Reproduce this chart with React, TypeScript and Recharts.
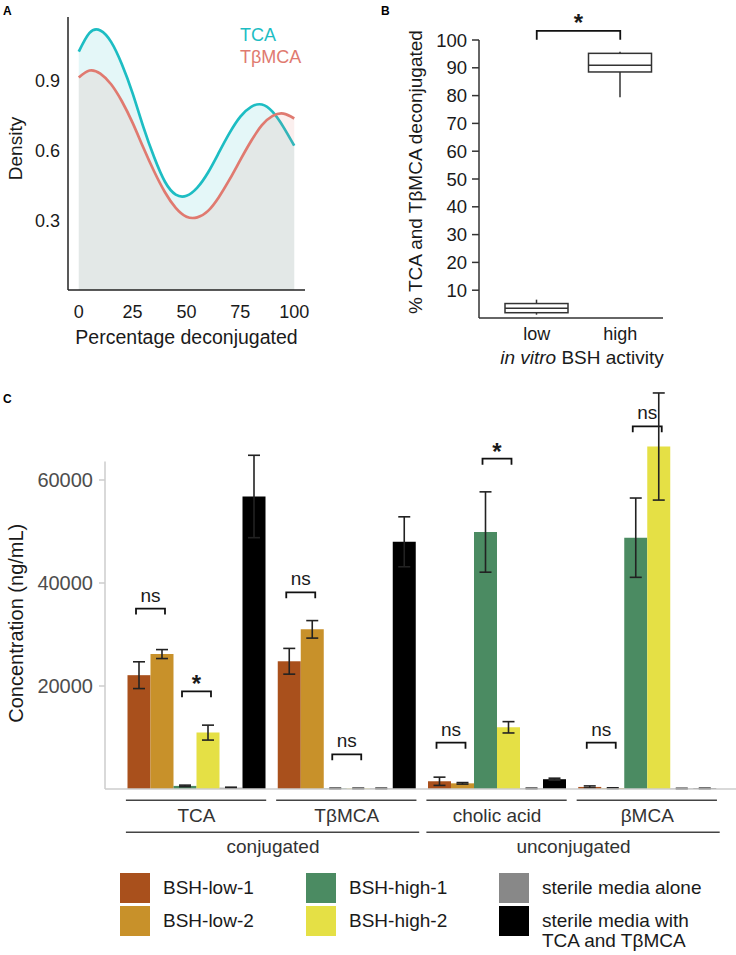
import React from 'react';
import { AreaChart, Area, ComposedChart, Bar, ErrorBar, XAxis, YAxis, ReferenceLine } from 'recharts';

const FONT = '"Liberation Sans", Arial, Helvetica, sans-serif';
const INK = '#1a1a1a';

// ---------- A: density of % deconjugated ----------
const pctGrid = [0, 5, 10, 15, 20, 25, 30, 35, 40, 45, 50, 55, 60, 65, 70, 75, 80, 85, 90, 95, 100];
const tcaDensity = [1.024, 1.105, 1.115, 1.066, 0.97, 0.845, 0.7, 0.57, 0.465, 0.41, 0.405, 0.44, 0.505, 0.59, 0.675, 0.745, 0.787, 0.797, 0.765, 0.7, 0.62];
const tbmcaDensity = [0.913, 0.943, 0.93, 0.884, 0.811, 0.718, 0.611, 0.509, 0.42, 0.353, 0.315, 0.312, 0.34, 0.399, 0.475, 0.559, 0.64, 0.708, 0.748, 0.758, 0.737];
const densityNames = ['TCA', 'TβMCA'];
const densityColors = ['#1dbdc3', '#e07a70'];
const pctTicks = [0, 25, 50, 75, 100];
const densityTicks = [0.3, 0.6, 0.9];

const densityRows = pctGrid.map((p, i) => ({ pct: p, tca: tcaDensity[i], tbmca: tbmcaDensity[i] }));

// ---------- B: box plot by in vitro activity ----------
const activity = ['low', 'high'];
const boxMin = [1.2, 79.4];
const boxQ1 = [1.9, 88.5];
const boxMed = [3.5, 90.9];
const boxQ3 = [5.2, 95.2];
const boxMax = [6.6, 95.8];
const deconjTicks = [10, 20, 30, 40, 50, 60, 70, 80, 90, 100];

const boxRows = activity.map((a, i) => ({
  cat: a, min: boxMin[i], q1: boxQ1[i], med: boxMed[i], q3: boxQ3[i], max: boxMax[i],
}));

// ---------- C: concentrations ----------
const acids = ['TCA', 'TβMCA', 'cholic acid', 'βMCA'];
const acidClasses = ['conjugated', 'unconjugated'];
const classFirst = [0, 2];
const classLast = [1, 3];

const strainNames = ['BSH-low-1', 'BSH-low-2', 'BSH-high-1', 'BSH-high-2', 'sterile media alone', 'sterile media with TCA and TβMCA'];
const strainColors = ['#a9501c', '#c8912a', '#4b8b62', '#e5e045', '#888888', '#000000'];

const bshLow1 = [22100, 24800, 1500, 400];
const bshLow1Sd = [2600, 2500, 800, 200];
const bshLow2 = [26200, 31000, 1100, 150];
const bshLow2Sd = [870, 1700, 150, 80];
const bshHigh1 = [600, 100, 49900, 48800];
const bshHigh1Sd = [150, 60, 7800, 7700];
const bshHigh2 = [10950, 100, 11980, 66500];
const bshHigh2Sd = [1450, 60, 1100, 10400];
const mediaAlone = [250, 100, 100, 80];
const mediaAloneSd = [100, 60, 60, 50];
const mediaWithBA = [56800, 48000, 1900, 100];
const mediaWithBASd = [8000, 4850, 200, 60];

const concValues = [bshLow1, bshLow2, bshHigh1, bshHigh2, mediaAlone, mediaWithBA];
const concErrors = [bshLow1Sd, bshLow2Sd, bshHigh1Sd, bshHigh2Sd, mediaAloneSd, mediaWithBASd];
const concTicks = [20000, 40000, 60000];

// significance brackets: group, left bar (right = left + 1), height, text
const sigGroup = [0, 0, 1, 1, 2, 2, 3, 3];
const sigLeftBar = [0, 2, 0, 2, 0, 2, 0, 2];
const sigLevel = [35030, 18970, 38190, 6740, 9000, 64150, 9000, 70420];
const sigText = ['ns', '*', 'ns', 'ns', 'ns', '*', 'ns', 'ns'];

const concRows = acids.map((acid, i) => {
  const row: any = { acid };
  concValues.forEach((vals, k) => {
    row['s' + k] = vals[i];
    row['e' + k] = concErrors[k][i];
  });
  return row;
});

const C_H = 498;
const C_TOP = 16;
const C_XAXIS_H = 70;
const C_YMAX = 80000;
const C_AXIS_TOP = 63600; // grey y axis line stops here
const CAT_GAP = 7.5;

const bracketShape = (tick: number) => (p: any) => {
  const { x1, y1, x2, y2 } = p;
  if (x1 == null) return <line {...p} />;
  const y = Math.min(y1, y2);
  return <path d={`M${x1},${y + tick}V${y}H${x2}V${y + tick}`} fill="none" stroke="#111" strokeWidth={1.8} />;
};

// first series carries the group annotations (lines under axis, significance brackets)
const AnnotatedBar = (props: any) => {
  const { x, y, width: w, height: h, fill, payload, background } = props;
  const g = payload ? acids.indexOf(payload.acid) : props.index;
  const plotH = background && background.height ? background.height : C_H - C_TOP - C_XAXIS_H;
  const base = background && background.height ? background.y + background.height : y + h;
  const py = (v: number) => base - (v * plotH) / C_YMAX;
  const band = 6 * w + 2 * CAT_GAP;
  const txt = { fontFamily: FONT, fontSize: 19 };
  const cls = classFirst.indexOf(g);
  return (
    <g>
      <rect x={x} y={y} width={w} height={h} fill={fill} />
      <line x1={x - 1.6} x2={x + 6 * w + 0.7} y1={base + 11.3} y2={base + 11.3} stroke="#444" strokeWidth={1.5} />
      <text x={x + 3 * w} y={base + 26} textAnchor="middle" dominantBaseline="central" fill="#333" {...txt}>{acids[g]}</text>
      {cls >= 0 && (
        <>
          <line x1={x - 1.6} x2={x + (classLast[cls] - classFirst[cls]) * band + 6 * w + 0.7}
            y1={base + 43.3} y2={base + 43.3} stroke="#444" strokeWidth={1.5} />
          <text x={x + ((classLast[cls] - classFirst[cls]) * band + 6 * w) / 2} y={base + 57} textAnchor="middle"
            dominantBaseline="central" fill="#333" {...txt}>{acidClasses[cls]}</text>
        </>
      )}
      {sigText.map((t, i) => {
        if (sigGroup[i] !== g) return null;
        const mid = x + (sigLeftBar[i] + 1) * w;
        const half = 0.63 * w;
        const by = py(sigLevel[i]);
        return (
          <g key={i}>
            <path d={`M${mid - half},${by + 6}V${by}H${mid + half}V${by + 6}`} fill="none" stroke="#111" strokeWidth={1.8} />
            {t === '*' ? (
              <text x={mid} y={by + 1} textAnchor="middle" fill={INK} fontFamily={FONT} fontSize={24} fontWeight="bold">*</text>
            ) : (
              <text x={mid} y={by - 7} textAnchor="middle" fill={INK} {...txt}>{t}</text>
            )}
          </g>
        );
      })}
    </g>
  );
};

function DensityPanel() {
  return (
    <div style={{ position: 'absolute', left: 0, top: 0 }}>
      <AreaChart width={340} height={350} data={densityRows} margin={{ top: 17, right: 35, left: 18, bottom: 0 }}>
        <XAxis
          dataKey="pct" type="number" domain={[-5, 105]} ticks={pctTicks} allowDataOverflow
          axisLine={{ stroke: '#222', strokeWidth: 1.5 }} tickLine={false} tickMargin={9} height={60}
          tick={{ fill: INK, fontSize: 18, fontFamily: FONT }}
          label={(p: any) => {
            const vb = p.viewBox || { x: 68, y: 290, width: 237 };
            return (
              <text x={vb.x + vb.width / 2} y={vb.y + 47} textAnchor="middle" dominantBaseline="central"
                fill={INK} fontSize={19.5} fontFamily={FONT}>Percentage deconjugated</text>
            );
          }}
        />
        <YAxis
          type="number" domain={[0, 1.173]} ticks={densityTicks} allowDataOverflow width={50}
          tickFormatter={(v: number) => v.toFixed(1)}
          axisLine={{ stroke: '#222', strokeWidth: 1.5 }} tickLine={false}
          tick={{ fill: INK, fontSize: 18, fontFamily: FONT }}
          label={(p: any) => {
            const vb = p.viewBox || { y: 17, height: 273 };
            const cy = vb.y + vb.height / 2 - 5;
            return (
              <text x={15} y={cy} transform={`rotate(-90 15 ${cy})`} textAnchor="middle" dominantBaseline="central"
                fill={INK} fontSize={19} fontFamily={FONT}>Density</text>
            );
          }}
        />
        <Area type="natural" dataKey="tca" stroke={densityColors[0]} strokeWidth={2.7} fill={densityColors[0]}
          fillOpacity={0.12} dot={false} activeDot={false} isAnimationActive={false} />
        <Area type="natural" dataKey="tbmca" stroke={densityColors[1]} strokeWidth={2.7} fill={densityColors[1]}
          fillOpacity={0.12} dot={false} activeDot={false} isAnimationActive={false} />
      </AreaChart>
      {densityNames.map((n, i) => (
        <div key={n} style={{ position: 'absolute', left: 240, top: 24 + i * 22, fontFamily: FONT, fontSize: 18,
          lineHeight: '22px', color: densityColors[i] }}>{n}</div>
      ))}
    </div>
  );
}

const BoxShape = (props: any) => {
  const { x, y, width, height, payload } = props;
  if (!payload || !height) return null;
  const base = y + height;
  const k = height / payload.max;
  const py = (v: number) => base - v * k;
  const cx = x + width / 2;
  return (
    <g stroke="#333" strokeWidth={1.5} fill="#fff">
      <line x1={cx} x2={cx} y1={py(payload.max)} y2={py(payload.q3)} />
      <line x1={cx} x2={cx} y1={py(payload.q1)} y2={py(payload.min)} />
      <rect x={x} y={py(payload.q3)} width={width} height={py(payload.q1) - py(payload.q3)} />
      <line x1={x} x2={x + width} y1={py(payload.med)} y2={py(payload.med)} />
    </g>
  );
};

function BoxPanel() {
  return (
    <div style={{ position: 'absolute', left: 380, top: 0 }}>
      <ComposedChart width={356} height={370} data={boxRows} margin={{ top: 40, right: 73, left: 39, bottom: 0 }}>
        <XAxis
          dataKey="cat" padding={{ left: 16, right: 1 }} height={52}
          axisLine={{ stroke: '#333', strokeWidth: 1.5 }} tickLine={false} tickMargin={3}
          tick={{ fill: INK, fontSize: 18, fontFamily: FONT }}
          label={(p: any) => {
            const vb = p.viewBox || { x: 99, y: 318, width: 184 };
            return (
              <text x={vb.x + vb.width / 2 + 11} y={vb.y + 39} textAnchor="middle" dominantBaseline="central"
                fill={INK} fontSize={19} fontFamily={FONT}>
                <tspan fontStyle="italic">in vitro</tspan> BSH activity
              </text>
            );
          }}
        />
        <YAxis
          type="number" domain={[0, 100]} ticks={deconjTicks} allowDataOverflow width={60}
          axisLine={{ stroke: '#333', strokeWidth: 1.5 }} tickLine={{ stroke: '#333', strokeWidth: 1.5 }}
          tickSize={7} tickMargin={5}
          tick={{ fill: INK, fontSize: 18.5, fontFamily: FONT }}
          label={(p: any) => {
            const vb = p.viewBox || { y: 40, height: 278 };
            const cy = vb.y + vb.height / 2 - 7;
            return (
              <text x={35} y={cy} transform={`rotate(-90 35 ${cy})`} textAnchor="middle" dominantBaseline="central"
                fill={INK} fontSize={19} fontFamily={FONT}>% TCA and TβMCA deconjugated</text>
            );
          }}
        />
        <Bar dataKey="max" barSize={63} shape={BoxShape} isAnimationActive={false} />
        <ReferenceLine
          segment={[{ x: activity[0], y: 103.3 }, { x: activity[1], y: 103.3 }]}
          ifOverflow="visible" shape={bracketShape(9)}
          label={{ value: '*', position: 'top', offset: 0, fill: INK, fontSize: 24, fontWeight: 'bold', fontFamily: FONT }}
        />
      </ComposedChart>
    </div>
  );
}

function ConcentrationPanel() {
  return (
    <div style={{ position: 'absolute', left: 0, top: 361 }}>
      <ComposedChart width={736} height={C_H} data={concRows} barCategoryGap={CAT_GAP} barGap={0}
        margin={{ top: C_TOP, right: 0, left: 0, bottom: 0 }}>
        <XAxis
          dataKey="acid" padding={{ left: 15, right: 15 }} height={C_XAXIS_H}
          axisLine={{ stroke: '#cccccc', strokeWidth: 1.5 }} tickLine={false} tick={false}
        />
        <YAxis
          type="number" domain={[0, C_YMAX]} ticks={concTicks} width={105}
          axisLine={false} tickLine={{ stroke: '#cccccc', strokeWidth: 1.5 }} tickSize={6} tickMargin={6}
          tick={{ fill: '#4d4d4d', fontSize: 20, fontFamily: FONT }}
          label={(p: any) => {
            const vb = p.viewBox || { x: 0, y: C_TOP, width: 105, height: C_H - C_TOP - C_XAXIS_H };
            const bottom = vb.y + vb.height;
            const top = bottom - (vb.height * C_AXIS_TOP) / C_YMAX;
            const ax = vb.x + vb.width;
            const cy = (top + bottom) / 2 - 2;
            return (
              <g>
                <line x1={ax} x2={ax} y1={bottom} y2={top} stroke="#cccccc" strokeWidth={1.5} />
                <text x={16} y={cy} transform={`rotate(-90 16 ${cy})`} textAnchor="middle" dominantBaseline="central"
                  fill={INK} fontSize={20} fontFamily={FONT}>Concentration (ng/mL)</text>
              </g>
            );
          }}
        />
        {strainNames.map((name, k) => (
          <Bar key={name} dataKey={'s' + k} name={name} fill={strainColors[k]} isAnimationActive={false}
            shape={k === 0 ? AnnotatedBar : undefined}>
            <ErrorBar dataKey={'e' + k} width={6} stroke="#222" strokeWidth={1.6} direction="y" />
          </Bar>
        ))}
      </ComposedChart>
    </div>
  );
}

const legendCols = [120, 306, 499];

function StrainLegend() {
  return (
    <>
      {strainNames.map((n, k) => {
        const left = legendCols[Math.floor(k / 2)];
        const top = 873 + (k % 2) * 33;
        return (
          <React.Fragment key={n}>
            <div style={{ position: 'absolute', left, top, width: 30, height: 30, background: strainColors[k] }} />
            <div style={{ position: 'absolute', left: left + 43, top: top + 5, width: 172, fontFamily: FONT,
              fontSize: 19, lineHeight: '20px', color: INK }}>{n}</div>
          </React.Fragment>
        );
      })}
    </>
  );
}

const panelLetter = (ch: string, left: number, top: number) => (
  <div style={{ position: 'absolute', left, top, fontFamily: FONT, fontWeight: 'bold', fontSize: 12, color: '#000' }}>{ch}</div>
);

export default function App() {
  return (
    <div style={{ position: 'absolute', left: 0, top: 0, width: 736, height: 955, background: '#fff', overflow: 'hidden' }}>
      <DensityPanel />
      <BoxPanel />
      <ConcentrationPanel />
      <StrainLegend />
      {panelLetter('A', 3, 4)}
      {panelLetter('B', 381, 4)}
      {panelLetter('C', 3, 392)}
    </div>
  );
}
